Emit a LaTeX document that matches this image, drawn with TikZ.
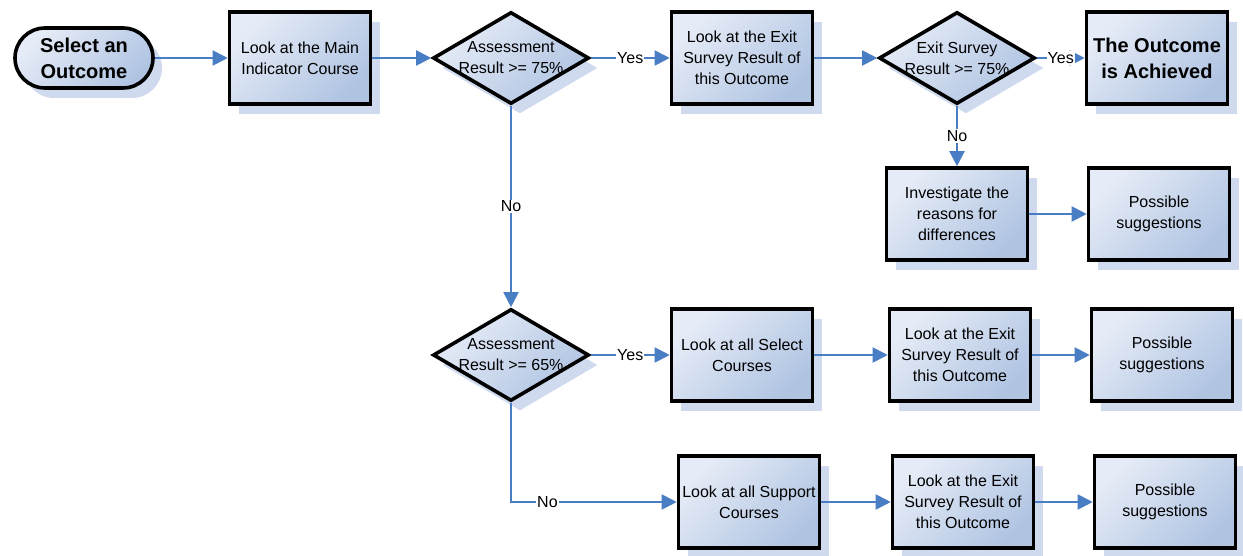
\documentclass[tikz,border=0pt]{standalone}
\usepackage{fontspec}
\setmainfont{Liberation Sans}
\usetikzlibrary{shapes.geometric,shapes.misc,shadows,arrows.meta}
\definecolor{lineblue}{RGB}{74,126,196}
\definecolor{filltop}{RGB}{230,236,247}
\definecolor{fillbot}{RGB}{176,196,226}
\definecolor{shadowc}{RGB}{208,218,238}
\begin{document}
\begin{tikzpicture}[x=1pt,y=-1pt,
  base/.style={draw=black, line width=3.6pt, top color=filltop, bottom color=fillbot, shading angle=45,
    drop shadow={shadow xshift=9pt, shadow yshift=-10pt, fill=shadowc, opacity=1}},
  box/.style={base, rectangle, minimum width=141pt, minimum height=92pt, inner sep=2pt, align=center,
    font=\fontsize{16}{21}\selectfont},
  boldbox/.style={box, font=\bfseries\fontsize{20}{26}\selectfont},
  term/.style={base, rounded rectangle, minimum width=142pt, minimum height=60pt, inner sep=2pt, align=center,
    font=\bfseries\fontsize{20}{26}\selectfont},
  dia/.style={base, diamond, minimum width=156pt, minimum height=92pt, inner sep=0pt},
  diatext/.style={align=center, inner sep=0pt, font=\fontsize{16}{21}\selectfont},
  arr/.style={draw=lineblue, line width=2pt, -{Triangle[length=15pt,width=15pt]}},
  yn/.style={fill=white, inner sep=1pt, font=\fontsize{16}{19}\selectfont}
]
\useasboundingbox (0,0) rectangle (1243,556);

% top row
\node[term] (s) at (84,58) {Select an\\Outcome};
\node[box] (b1) at (300,58) {Look at the Main\\Indicator Course};
\node[dia] (d1) at (511,58) {};
\node[diatext] (d1t) at (d1.center) {Assessment\\Result >= 75\%};
\node[box] (b2) at (742,58) {Look at the Exit\\Survey Result of\\this Outcome};
\node[dia] (d2) at (957,58) {};
\node[diatext] (d2t) at (d2.center) {Exit Survey\\Result >= 75\%};
\node[boldbox] (b3) at (1157,58) {The Outcome\\is Achieved};

% second row (right)
\node[box] (inv) at (957,214) {Investigate the\\reasons for\\differences};
\node[box] (p1) at (1159,214) {Possible\\suggestions};

% third row
\node[dia] (d3) at (511,355) {};
\node[diatext] (d3t) at (d3.center) {Assessment\\Result >= 65\%};
\node[box] (sel) at (742,355) {Look at all Select\\Courses};
\node[box] (e2) at (960,355) {Look at the Exit\\Survey Result of\\this Outcome};
\node[box] (p2) at (1162,355) {Possible\\suggestions};

% fourth row
\node[box] (sup) at (749,502) {Look at all Support\\Courses};
\node[box] (e3) at (963,502) {Look at the Exit\\Survey Result of\\this Outcome};
\node[box] (p3) at (1165,502) {Possible\\suggestions};

% connectors
\draw[arr] (s.east) -- (b1.west);
\draw[arr] (b1.east) -- (d1.west);
\draw[arr] (d1.east) -- node[yn] {Yes} (b2.west);
\draw[arr] (b2.east) -- (d2.west);
\draw[arr] (d2.east) -- node[yn] {Yes} (b3.west);
\draw[arr] (d2.south) -- node[yn] {No} (inv.north);
\draw[arr] (inv.east) -- (p1.west);
\draw[arr] (d1.south) -- node[yn] {No} (d3.north);
\draw[arr] (d3.east) -- node[yn] {Yes} (sel.west);
\draw[arr] (sel.east) -- (e2.west);
\draw[arr] (e2.east) -- (p2.west);
\draw[arr] (d3.south) |- node[yn, pos=0.61] {No} (sup.west);
\draw[arr] (sup.east) -- (e3.west);
\draw[arr] (e3.east) -- (p3.west);
\end{tikzpicture}
\end{document}
